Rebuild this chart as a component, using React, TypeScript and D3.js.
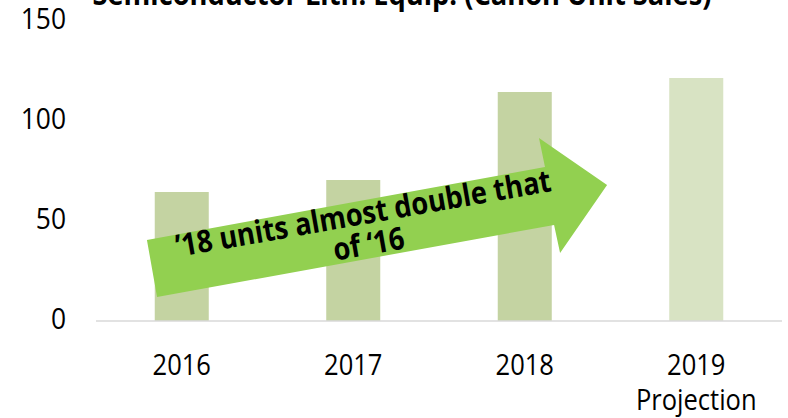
import React from "react";
import * as d3 from "d3";

const categories = ["2016", "2017", "2018", "2019"];
const subLabels = ["", "", "", "Projection"];
const unitSales = [64.5, 70.5, 114.5, 121.5];
const yTicks = [0, 50, 100, 150];
const title = "Semiconductor Lith. Equip. (Canon Unit Sales)";
const noteLines = ["\u201918 units almost double that", "of \u201816"];
// arrow outline in data units: [category index offset, value]
const arrowPts: [number, number][] = [
  [-0.203, 40.5],
  [2.118, 77],
  [2.083, 91.5],
  [2.48, 68],
  [2.206, 34],
  [2.171, 48],
  [-0.144, 12],
];
const noteAnchor: [number, number] = [1.069, 48.5];

const W = 788;
const H = 418;
const FONT = "'Open Sans', 'Noto Sans', sans-serif";
const SX = 0.88;

export default function App() {
  const x = d3
    .scaleBand<string>()
    .domain(categories)
    .range([96, 782])
    .paddingInner(0.685)
    .paddingOuter(0.3425);
  const y = d3.scaleLinear().domain([0, 150]).range([321, 21]);
  const step = x.step();
  const c0 = (x(categories[0]) as number) + x.bandwidth() / 2;
  const xi = (i: number) => c0 + step * i;

  const arrowPath = d3.line<[number, number]>()
    .x((d) => xi(d[0]))
    .y((d) => y(d[1]))(arrowPts) + "Z";

  const ax = xi(noteAnchor[0]);
  const ay = y(noteAnchor[1]);

  const T = (props: any) => {
    const { x: tx, y: ty, children, ...rest } = props;
    return (
      <text transform={`translate(${tx},${ty}) scale(${SX},1)`} {...rest}>
        {children}
      </text>
    );
  };

  return (
    <svg width={W} height={H} style={{ position: "absolute", left: 0, top: 0 }} fontFamily={FONT}>
      <rect width={W} height={H} fill="#ffffff" />
      {categories.map((c, i) => (
        <rect
          key={c}
          x={x(c)}
          y={y(unitSales[i])}
          width={x.bandwidth()}
          height={y(0) - y(unitSales[i])}
          fill={i === 3 ? "#d8e3c3" : "#c4d3a2"}
        />
      ))}
      <line x1={96} x2={782} y1={y(0)} y2={y(0)} stroke="#d9d9d9" strokeWidth={1.5} />
      {yTicks.map((t) => (
        <T key={t} x={66} y={y(t) + 8} textAnchor="end" fontSize={30} fill="#000">
          {t}
        </T>
      ))}
      {categories.map((c, i) => (
        <g key={c}>
          <T x={(x(c) as number) + x.bandwidth() / 2} y={375} textAnchor="middle" fontSize={29} fill="#000">
            {c}
          </T>
          {subLabels[i] && (
            <T x={(x(c) as number) + x.bandwidth() / 2} y={410} textAnchor="middle" fontSize={29} fill="#000">
              {subLabels[i]}
            </T>
          )}
        </g>
      ))}
      <T x={402} y={5} textAnchor="middle" fontSize={31} fontWeight="bold" fill="#000">
        {title}
      </T>
      <path d={arrowPath} fill="#92d050" />
      <g transform={`translate(${ax},${ay}) rotate(-10)`}>
        {noteLines.map((l, k) => (
          <T key={k} x={0} y={k * 31} textAnchor="middle" fontSize={31} fontWeight="bold" fill="#000">
            {l}
          </T>
        ))}
      </g>
    </svg>
  );
}
